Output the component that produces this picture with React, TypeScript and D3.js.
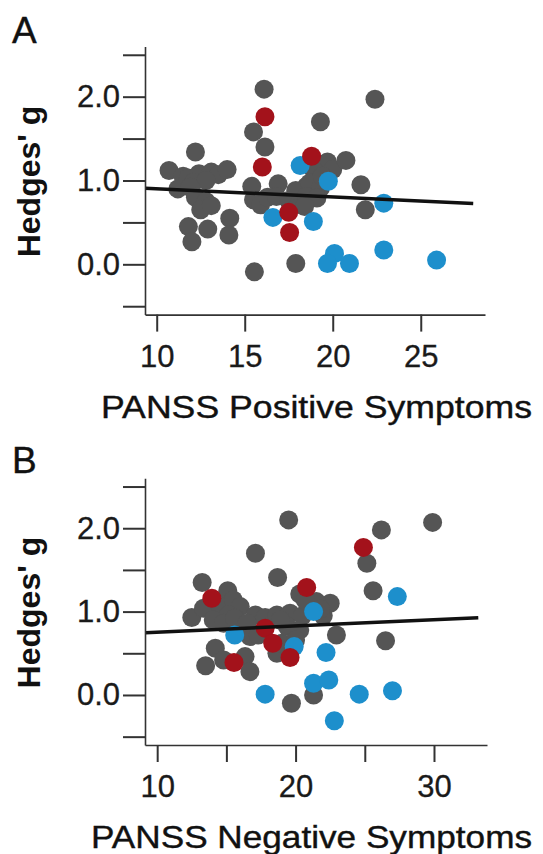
import { useEffect, useRef } from 'react';
import * as d3 from 'd3';

type Pt = [number, number];

// Panel A: PANSS positive symptoms vs Hedges' g
const posGray: Pt[] = [
  [16.1, 2.09], [22.4, 1.97], [19.3, 1.7], [15.5, 1.58], [16.15, 1.4], [12.2, 1.34],
  [10.7, 1.12], [11.5, 1.05], [11.2, 0.9], [11.8, 1.03], [12.4, 1.08], [13.1, 1.1], [13.5, 1.07],
  [14.0, 1.13], [12.1, 0.98], [12.8, 1.0], [11.9, 0.92],
  [12.2, 0.8], [12.8, 0.75], [12.5, 0.65], [13.1, 0.7], [11.8, 0.45], [12.9, 0.42], [12.0, 0.27],
  [14.15, 0.55], [14.1, 0.35],
  [15.4, 0.93], [15.5, 0.77], [15.9, 0.71], [16.3, 0.8], [16.9, 0.96], [16.8, 0.81], [17.5, 0.76],
  [18.1, 0.73], [18.5, 0.93], [17.9, 0.88],
  [19.7, 1.22], [18.9, 1.13], [20.0, 1.13], [18.7, 0.97], [19.3, 0.91], [18.5, 0.81], [19.1, 0.79],
  [18.4, 0.69], [19.4, 1.05],
  [20.75, 1.24], [21.6, 0.95], [21.85, 0.65], [15.55, -0.09], [17.9, 0.01],
];
const posRed: Pt[] = [[16.15, 1.76], [16.0, 1.16], [18.8, 1.29], [17.5, 0.62], [17.55, 0.38]];
const posBlue: Pt[] = [
  [16.6, 0.56], [18.15, 1.18], [18.9, 0.51], [19.75, 0.99], [22.9, 0.73], [22.9, 0.17],
  [20.1, 0.13], [19.7, 0.01], [20.95, 0.01], [25.9, 0.05],
];
const posFit: Pt[] = [[9.35, 0.907], [27.98, 0.726]];
const posTicks = [10, 15, 20, 25];
const posLabels = [10, 15, 20, 25];

// Panel B: PANSS negative symptoms vs Hedges' g
const negGray: Pt[] = [
  [19.5, 2.1], [17.1, 1.7], [18.7, 1.41], [13.25, 1.35], [15.1, 1.25], [20.3, 1.21],
  [12.5, 0.93], [13.35, 1.04], [14.55, 1.06], [15.5, 1.14], [16.0, 1.06], [15.15, 0.96],
  [14.05, 0.9], [14.8, 0.86], [15.6, 0.92],
  [17.1, 0.96], [16.5, 0.86], [16.7, 0.7], [17.3, 0.72], [17.8, 0.93],
  [18.65, 0.96], [19.6, 0.98], [19.4, 0.82], [20.3, 0.78], [18.65, 0.5], [19.0, 0.62],
  [20.0, 0.66], [18.9, 0.9], [20.5, 0.95],
  [14.2, 0.56], [14.8, 0.42], [16.35, 0.46], [13.5, 0.35], [16.7, 0.28],
  [19.7, -0.1], [21.3, 0.0],
  [29.9, 2.07], [26.2, 1.98], [25.15, 1.58], [25.6, 1.25], [26.5, 0.65], [22.95, 0.72],
  [22.5, 1.1], [21.5, 1.12], [20.7, 1.14], [22.0, 0.95], [21.8, 1.03],
];
const negRed: Pt[] = [
  [13.95, 1.16], [20.8, 1.29], [17.8, 0.8], [18.35, 0.62], [19.6, 0.45], [15.55, 0.39], [24.9, 1.77],
];
const negBlue: Pt[] = [
  [15.6, 0.72], [17.8, 0.01], [19.9, 0.58], [21.3, 1.0], [21.3, 0.14], [27.35, 1.18],
  [22.2, 0.51], [22.4, 0.18], [24.6, 0.01], [27.0, 0.05], [22.8, -0.31],
];
const negFit: Pt[] = [[9.15, 0.747], [33.2, 0.926]];
const negTicks = [10, 15, 20, 25, 30];
const negLabels = [10, 20, 30];

const yTicks = [-0.5, 0, 0.5, 1, 1.5, 2, 2.5];
const yLabels = [0, 1, 2];

const GRAY = '#555555';
const RED = '#a3121b';
const BLUE = '#1d8fcc';
const INK = '#1a1a1a';
const FONT = '"Liberation Sans", Arial, Helvetica, sans-serif';

interface PanelCfg {
  letter: string;
  title: string;
  titleX: number;
  titleW: number;
  xDomain: [number, number];
  xRange: [number, number];
  yRange: [number, number];
  ticks: number[];
  labels: number[];
  gray: Pt[];
  red: Pt[];
  blue: Pt[];
  fit: Pt[];
}

const panels: PanelCfg[] = [
  {
    letter: 'A', title: 'PANSS Positive Symptoms', titleX: 101, titleW: 431,
    xDomain: [9.335, 28.65], xRange: [145, 485], yRange: [314.6, 46.4],
    ticks: posTicks, labels: posLabels, gray: posGray, red: posRed, blue: posBlue, fit: posFit,
  },
  {
    letter: 'B', title: 'PANSS Negative Symptoms', titleX: 91, titleW: 441,
    xDomain: [9.12, 33.83], xRange: [145, 487], yRange: [745, 478.2],
    ticks: negTicks, labels: negLabels, gray: negGray, red: negRed, blue: negBlue, fit: negFit,
  },
];

export default function App() {
  const svgRef = useRef<SVGSVGElement>(null);

  useEffect(() => {
    if (!svgRef.current) return;
    const svg = d3.select(svgRef.current);
    svg.selectAll('*').remove();

    panels.forEach((p) => {
      const x = d3.scaleLinear().domain(p.xDomain).range(p.xRange);
      const y = d3.scaleLinear().domain([-0.6, 2.6]).range(p.yRange);
      const g = svg.append('g');
      const x0 = p.xRange[0];
      const yBase = p.yRange[0];

      // panel letter
      g.append('text')
        .attr('x', 12)
        .attr('y', yBase - 272)
        .style('font-family', FONT)
        .style('font-size', '37px')
        .style('fill', '#111')
        .style('stroke', '#111')
        .style('stroke-width', 0.4)
        .text(p.letter);

      // dots: gray first, then blue, red on top
      const dots = ([[p.gray, GRAY], [p.blue, BLUE], [p.red, RED]] as [Pt[], string][]);
      dots.forEach(([pts, col]) => {
        g.append('g')
          .selectAll('circle')
          .data(pts)
          .enter()
          .append('circle')
          .attr('cx', (d) => x(d[0]))
          .attr('cy', (d) => y(d[1]))
          .attr('r', 9.5)
          .attr('fill', col);
      });

      // regression line
      g.append('path')
        .attr('d', d3.line<Pt>().x((d) => x(d[0])).y((d) => y(d[1]))(p.fit) ?? '')
        .attr('fill', 'none')
        .attr('stroke', '#111')
        .attr('stroke-width', 3.5);

      // y axis
      const yAxis = d3.axisLeft(y)
        .tickValues(yTicks)
        .tickSize(22)
        .tickSizeOuter(0)
        .tickPadding(3)
        .tickFormat((d) => (yLabels.includes(+d) ? d3.format('.1f')(+d) : ''));
      const ya = g.append('g').attr('transform', `translate(${x0},0)`).call(yAxis);

      // x axis
      const xAxis = d3.axisBottom(x)
        .tickValues(p.ticks)
        .tickSize(17)
        .tickSizeOuter(0)
        .tickPadding(13)
        .tickFormat((d) => (p.labels.includes(+d) ? String(d) : ''));
      const xa = g.append('g').attr('transform', `translate(0,${yBase})`).call(xAxis);

      [ya, xa].forEach((a) => {
        a.select('.domain').attr('stroke', '#333').attr('stroke-width', 1.6);
        a.selectAll('.tick line').attr('stroke', '#333').attr('stroke-width', 2);
        a.selectAll('.tick text')
          .style('font-family', FONT)
          .style('font-size', '31px')
          .style('stroke', INK)
          .style('stroke-width', 0.3)
          .attr('fill', INK);
      });

      // y title
      g.append('text')
        .attr('transform', `translate(40,${y(1) + 1}) rotate(-90)`)
        .attr('text-anchor', 'middle')
        .style('font-family', FONT)
        .style('font-size', '32px')
        .style('font-weight', 'bold')
        .style('fill', '#111')
        .text("Hedges' g");

      // x title
      g.append('text')
        .attr('x', p.titleX)
        .attr('y', yBase + 103)
        .attr('textLength', p.titleW)
        .attr('lengthAdjust', 'spacingAndGlyphs')
        .style('font-family', FONT)
        .style('font-size', '32px')
        .style('fill', '#111')
        .style('stroke', '#111')
        .style('stroke-width', 0.4)
        .text(p.title);
    });
  }, []);

  return (
    <svg
      ref={svgRef}
      width={543}
      height={854}
      style={{ position: 'absolute', left: 0, top: 0, background: '#fff' }}
    />
  );
}
